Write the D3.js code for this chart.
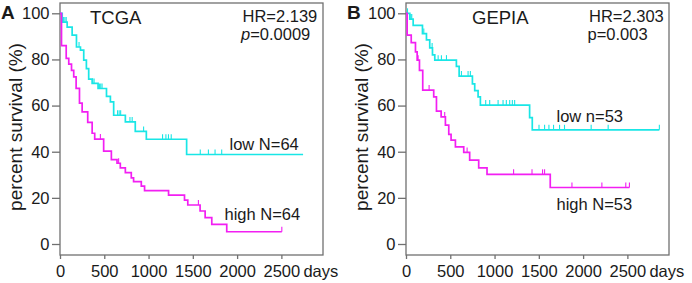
<!DOCTYPE html>
<html>
<head>
<meta charset="utf-8">
<title>Survival curves</title>
<style>
  body { margin: 0; background: #fff; }
  text { font-family: "Liberation Sans", Arial, sans-serif; fill: #1a1a1a; }
</style>
</head>
<body>
<script src="https://d3js.org/d3.v7.min.js"></script>
<script>
// Kaplan-Meier steps: [day, percent survival]
const tcgaLow = [[0,100],[25,96.2],[81,94],[137,90.5],[186,85.4],[231,84],[268,79.7],[298,76],[324,71.5],[363,69.6],[430,67.4],[525,64],[569,61.6],[606,55.8],[738,52.9],[850,48.8],[975,45.4],[1430,38.8]];
const tcgaLowEnd = 2745;
const tcgaLowCensor = [38,55,70,215,370,385,445,460,475,650,668,685,790,815,944,1158,1196,1225,1256,1584,1676,1751,1826];

const tcgaHigh = [[0,100],[17,86],[70,80.5],[99,78],[130,75.3],[155,72.4],[182,67.5],[220,61.1],[250,57.3],[313,52.7],[363,48],[392,45.5],[493,40.3],[580,36.6],[644,35],[681,33],[738,30.9],[805,28.7],[831,27],[918,25.1],[955,23.1],[1226,21.2],[1406,19],[1443,16.9],[1582,14.3],[1639,11.4],[1714,8.5],[1883,5.3]];
const tcgaHighEnd = 2505;
const tcgaHighCensor = [456,662,1563,2505];

const gepiaLow = [[0,100],[43,97.5],[81,94.8],[186,91.2],[231,88.5],[268,85],[299,82],[325,79.7],[569,77],[600,72.8],[750,69.4],[776,66.5],[814,63.8],[840,60.2],[1396,54.8],[1426,49.5]];
const gepiaLowEnd = 2861;
const gepiaLowCensor = [17,55,65,201,295,363,400,457,626,701,727,900,945,1040,1096,1133,1171,1201,1227,1502,1565,1614,1666,1734,1790,2091,2283,2861];

const gepiaHigh = [[0,100],[13,90.5],[59,87.3],[107,83.3],[126,79.7],[152,75.3],[189,66.7],[313,63.8],[344,57.6],[397,55.1],[445,51.5],[483,47.5],[509,45],[558,42.1],[652,39.7],[719,36.4],[821,33],[915,30.2],[1629,24.5]];
const gepiaHighEnd = 2523;
const gepiaHighCensor = [137,261,400,437,690,1215,1423,1542,1565,1874,2212,2482,2523];

const xTicks = [0, 500, 1000, 1500, 2000, 2500];
const yTicks = [0, 20, 40, 60, 80, 100];

const lowColor = "#19e6e6";
const highColor = "#f21ff2";

const svg = d3.select("body").append("svg")
    .attr("width", 692)
    .attr("height", 283);

// survival at a given day (value of the step at that time)
function survAt(steps, day) {
    let s = steps[0][1];
    steps.forEach(p => { if (p[0] <= day) s = p[1]; });
    return s;
}

function drawPanel(p) {
    const g = svg.append("g").attr("transform", `translate(${p.left},0)`);
    const w = 263, top = 3, bottom = 255;

    const x = d3.scaleLinear().domain([0, 2970]).range([0, w]);
    const y = d3.scaleLinear().domain([0, 100]).range([244, 13.3]);

    // frame
    g.append("rect")
        .attr("x", 0).attr("y", top)
        .attr("width", w).attr("height", bottom - top)
        .attr("fill", "none")
        .attr("stroke", "#707070")
        .attr("stroke-width", 1.3);

    // y axis
    const ya = g.append("g")
        .call(d3.axisLeft(y).tickValues(yTicks).tickSize(8).tickPadding(2.5));
    ya.select(".domain").remove();
    ya.selectAll("line").attr("stroke", "#707070").attr("stroke-width", 1.3);
    ya.selectAll("text").attr("font-size", 16.5).attr("fill", "#1a1a1a")
        .attr("font-family", "Liberation Sans, Arial, sans-serif");

    // x axis
    const xa = g.append("g")
        .attr("transform", `translate(0,${bottom})`)
        .call(d3.axisBottom(x).tickValues(xTicks).tickFormat(d3.format("d"))
            .tickSize(4).tickPadding(6));
    xa.select(".domain").remove();
    xa.selectAll("line").attr("stroke", "#707070").attr("stroke-width", 1.3);
    xa.selectAll("text").attr("font-size", 16.5).attr("fill", "#1a1a1a")
        .attr("font-family", "Liberation Sans, Arial, sans-serif");

    g.append("text")
        .attr("x", x(2500) + 22).attr("y", 277)
        .attr("font-size", 16.5)
        .text("days");

    // curves
    const line = d3.line()
        .x(d => x(d[0]))
        .y(d => y(d[1]))
        .curve(d3.curveStepAfter);

    p.curves.forEach(c => {
        const pts = c.steps.concat([[c.end, c.steps[c.steps.length - 1][1]]]);
        g.append("path")
            .datum(pts)
            .attr("fill", "none")
            .attr("stroke", c.color)
            .attr("stroke-width", 1.7)
            .attr("d", line);
        g.selectAll(null)
            .data(c.censor)
            .enter()
            .append("line")
            .attr("x1", d => x(d)).attr("x2", d => x(d))
            .attr("y1", d => y(survAt(c.steps, d)))
            .attr("y2", d => y(survAt(c.steps, d)) - 5)
            .attr("stroke", c.color)
            .attr("stroke-width", 1.1);
        g.append("text")
            .attr("x", c.labelX).attr("y", c.labelY)
            .attr("font-size", 16.5)
            .text(c.label);
    });

    // titles and stats
    g.append("text")
        .attr("x", p.titleX).attr("y", 24)
        .attr("font-size", 18.5)
        .text(p.title);
    g.append("text")
        .attr("x", p.statX).attr("y", 21.5)
        .attr("font-size", 16.5)
        .text(p.hr);
    const pt = g.append("text")
        .attr("x", p.statX - 1.5).attr("y", 40)
        .attr("font-size", 16.5);
    pt.append("tspan").attr("font-style", p.italicP ? "italic" : "normal").text("p");
    pt.append("tspan").text(p.pval);

    // y label
    g.append("text")
        .attr("transform", `translate(-38.5,127) rotate(-90)`)
        .attr("text-anchor", "middle")
        .attr("font-size", 19)
        .text("percent survival (%)");

    // panel letter
    g.append("text")
        .attr("x", -59).attr("y", 18.5)
        .attr("font-size", 19)
        .attr("font-weight", "bold")
        .text(p.letter);
}

drawPanel({
    left: 60, letter: "A", title: "TCGA", titleX: 30,
    hr: "HR=2.139", pval: "=0.0009", italicP: true, statX: 182.5,
    curves: [
        { steps: tcgaLow, end: tcgaLowEnd, censor: tcgaLowCensor, color: lowColor,
          label: "low N=64", labelX: 169.5, labelY: 150 },
        { steps: tcgaHigh, end: tcgaHighEnd, censor: tcgaHighCensor, color: highColor,
          label: "high N=64", labelX: 164.5, labelY: 220 }
    ]
});

drawPanel({
    left: 406, letter: "B", title: "GEPIA", titleX: 66,
    hr: "HR=2.303", pval: "=0.003", italicP: false, statX: 183,
    curves: [
        { steps: gepiaLow, end: gepiaLowEnd, censor: gepiaLowCensor, color: lowColor,
          label: "low n=53", labelX: 150.5, labelY: 121.5 },
        { steps: gepiaHigh, end: gepiaHighEnd, censor: gepiaHighCensor, color: highColor,
          label: "high N=53", labelX: 150.5, labelY: 210 }
    ]
});
</script>
</body>
</html>
